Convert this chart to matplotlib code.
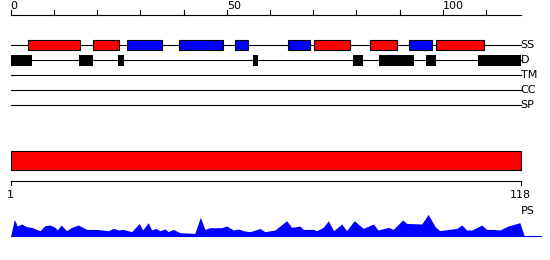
import matplotlib
matplotlib.use("Agg")
import matplotlib.pyplot as plt

# sequence length
seq_len = 118

# secondary structure segments (H = helix red, E = strand blue)
ss_start = [3.9, 19, 26.9, 39, 52, 64.1, 70.1, 83.2, 92.2, 98.3]
ss_end = [16, 25, 35.1, 49.1, 55, 69.3, 78.4, 89.3, 97.4, 109.4]
ss_type = ["H", "H", "E", "E", "E", "E", "H", "H", "E", "H"]

# disordered segments
d_start = [0, 15.9, 24.9, 56.1, 79.1, 85.2, 96.1, 108.2]
d_end = [4.9, 19.1, 26.1, 57.3, 81.4, 93.2, 98.3, 118]

track_labels = ["SS", "D", "TM", "CC", "SP"]

# PS profile (position, score)
ps_pos = [0.0, 0.84, 1.53, 2.54, 3.69, 4.85, 6.78, 7.93, 9.09, 10.25, 10.79, 11.64,
          12.95, 14.1, 15.65, 17.57, 19.89, 22.59, 23.74, 24.9, 26.06, 27.98, 29.76,
          30.53, 31.84, 32.61, 33.54, 34.54, 35.7, 36.47, 37.63, 39.17, 42.6, 43.88,
          44.95, 46.1, 48.8, 49.97, 51.5, 52.7, 53.8, 55.4, 57.7, 58.8, 61.15, 63.85,
          65.0, 66.93, 67.7, 70.0, 70.8, 72.3, 73.5, 74.7, 76.6, 77.7, 79.5, 81.6,
          83.9, 85.0, 87.4, 88.5, 90.7, 91.6, 95.1, 96.6, 98.2, 99.3, 101.3, 103.2,
          104.4, 105.5, 106.7, 109.0, 110.1, 111.7, 113.2, 115.1, 117.8, 118.8]
ps_val = [0, 16.3, 9.7, 11.7, 9, 8.3, 5, 10, 10.7, 8.3, 5.7, 10.7, 5, 8.3, 10.7, 6.3,
          6.3, 5, 7.3, 5.7, 6.3, 4, 12.3, 5.7, 13, 5.7, 7.3, 5, 6.7, 4, 6.3, 3, 2.3,
          18.3, 6.3, 8, 8, 9.7, 5.7, 6.7, 5, 4, 7.3, 4, 5.7, 15, 8.3, 9.7, 6.3, 6.3, 5,
          8.3, 15, 5, 11.7, 5, 15, 7.3, 11.7, 5.7, 8.3, 6.3, 15.7, 12.3, 11.7, 21.3, 9,
          5, 6.3, 7.3, 10.7, 5.7, 5.7, 10.7, 6.3, 6.3, 5.7, 9.7, 13, 0]

colors = {"H": "#ff0000", "E": "#0000ff"}
W, H = 550, 260
px_per_res = 510.0 / seq_len
x_lo = -10.7 / px_per_res
x_hi = (W - 10.7) / px_per_res
fs = 8
lw = 0.8

fig = plt.figure(figsize=(W / 100, H / 100), dpi=100)
ax = fig.add_axes([0, 0, 1, 1])
ax.set_xlim(x_lo, x_hi)
ax.set_ylim(H, 0)
ax.axis("off")

# top ruler
ax.plot([0, seq_len], [15, 15], color="black", lw=lw)
for t in range(0, seq_len, 10):
    ax.plot([t, t], [15, 10], color="black", lw=lw)
    if t % 50 == 0:
        ax.text(t, 6, str(t), ha="left", va="center", fontsize=fs)

# track lines
row_y = [45, 60, 75, 90, 105]
for y, lab in zip(row_y, track_labels):
    ax.plot([0, seq_len], [y, y], color="black", lw=lw, zorder=1)
    ax.text(seq_len, y, lab, ha="left", va="center", fontsize=fs)

# secondary structure boxes
ax.barh([45] * len(ss_start), [e - s for s, e in zip(ss_start, ss_end)], left=ss_start,
        height=10.5, color=[colors[t] for t in ss_type], edgecolor="black", linewidth=lw,
        zorder=2)
# disorder boxes
ax.barh([60] * len(d_start), [e - s for s, e in zip(d_start, d_end)], left=d_start,
        height=11, color="black", edgecolor="black", linewidth=0, zorder=2)

# full-length bar
ax.barh([160.5], [seq_len], left=0, height=19.5, color="#ff0000", edgecolor="black",
        linewidth=lw)

# bottom ruler
ax.plot([0, seq_len], [180.7, 180.7], color="black", lw=lw)
for t, lab in [(0, "1"), (seq_len, str(seq_len))]:
    ax.plot([t, t], [180.7, 185], color="black", lw=lw)
    ax.text(t, 195, lab, ha="center", va="center", fontsize=fs)
ax.text(seq_len, 211, "PS", ha="left", va="center", fontsize=fs)

# PS profile
base = H - 235.7
pax = fig.add_axes([0, base / H, 1, 30 / H])
pax.set_xlim(x_lo, x_hi)
pax.set_ylim(0, 30)
pax.axis("off")
pax.fill_between(ps_pos, 0, ps_val, color="#0000ff", lw=0, clip_on=False)
pax.plot([0, (540.7 - 10.7) / px_per_res], [0, 0], color="#0000ff", lw=lw, clip_on=False)

fig.savefig("out.png", dpi=100)
